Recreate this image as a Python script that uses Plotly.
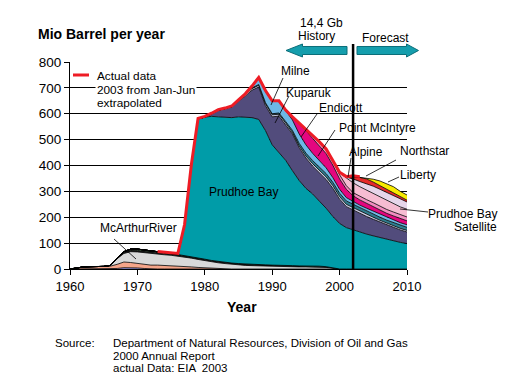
import plotly.graph_objects as go

# ---------------- data (Mio barrel per year) ----------------
YEARS = list(range(1960, 2011))

COOK_OTHER_START = 1967
COOK_OTHER = [2, 5, 5, 4, 2]
SWANSON_START = 1960
SWANSON = [0, 5, 8, 9, 9, 10, 11, 16, 22, 20, 18, 16, 15, 15, 14, 13, 12, 10, 8, 6, 4, 3, 2, 1]
MCARTHUR_START = 1966
MCARTHUR = [2, 22, 33, 42, 44, 45, 44, 42, 41, 40, 38, 36, 34, 31, 28, 25, 22, 20, 18, 16,
            14, 13, 12, 11, 10, 10, 9, 9, 8, 8, 8, 7, 6, 3]
MGS_START = 1966
MGS = [1, 3, 5, 6, 6, 6, 6, 6, 6, 6, 6, 6, 6, 6, 6, 5, 5, 5, 5, 5, 5, 5, 5, 5, 5, 5,
       4, 4, 4, 4, 4, 4, 3, 2]
GRANITE_START = 1968
GRANITE = [2, 4, 5, 5, 4, 3, 2, 1]
PRUDHOE_START = 1977
PRUDHOE = [118, 352, 537, 549, 557, 559, 560, 562, 567, 567, 567, 561, 519, 465, 435, 407,
           367, 330, 300, 278, 251, 226, 198, 176, 160, 151, 142, 135, 128, 121, 114, 108, 103, 98]
KUPARUK_START = 1981
KUPARUK = [10, 26, 34, 43, 61, 82, 106, 125, 96, 108, 141, 138, 142, 127, 117, 108, 109, 111,
           109, 94, 81, 77, 72, 68, 64, 60, 56, 52, 48, 45]
MILNE_START = 1985
MILNE = [3, 5, 6, 7, 8, 8, 7, 6, 6, 7, 8, 9, 10, 10, 10, 10, 9, 9, 9, 8, 8, 7, 7, 7, 6, 6]
LISBURNE_START = 1986
LISBURNE = [2, 3, 3, 4, 4, 5, 6, 8, 10, 11, 12, 12, 13, 13, 13, 13, 13, 13, 13, 13, 12, 12, 12, 12, 12]
ENDICOTT_START = 1987
ENDICOTT = [5, 25, 45, 48, 45, 42, 40, 36, 32, 28, 25, 22, 18, 15, 13, 11, 11, 11, 11, 10, 10, 10, 10, 10]
PTMC_START = 1993
PTMC = [10, 40, 55, 58, 58, 55, 48, 40, 32, 22, 20, 19, 18, 17, 16, 16, 15, 15]
NIAKUK_START = 1995
NIAKUK = [5, 10, 14, 16, 17, 16, 14, 12, 13, 14, 14, 15, 15, 15, 15, 15]
ALPINE_START = 2000
ALPINE = [8, 30, 38, 38, 37, 36, 35, 34, 32, 31, 30]
SATELLITE_START = 2001
SATELLITE = [3, 15, 20, 25, 28, 31, 32, 32, 30, 28]
NORTHSTAR_START = 2002
NORTHSTAR = [8, 16, 18, 16, 14, 12, 10, 8, 7]
LIBERTY_START = 2004
LIBERTY = [2, 11, 18, 22, 24, 22, 20]

ACTUAL_START = 1973
ACTUAL = [68, 66, 64, 60, 172, 402, 582, 590, 602, 616, 622, 630, 654, 677, 707, 740, 690,
          650, 650, 614, 588, 564, 542, 517, 492, 464, 420, 374, 357, 360, 357]

FORECAST_START = 2002
X_TICKS = [1960, 1970, 1980, 1990, 2000, 2010]
Y_TICKS = [0, 100, 200, 300, 400, 500, 600, 700, 800]


def padded(start, values):
    return [values[y - start] if start <= y < start + len(values) else 0 for y in YEARS]


LAYERS = [
    ("Cook Inlet other", COOK_OTHER_START, COOK_OTHER, "#8C8CD2"),
    ("Swanson River", SWANSON_START, SWANSON, "#F5A58A"),
    ("McArthur River", MCARTHUR_START, MCARTHUR, "#D9D9D9"),
    ("Middle Ground Shoal", MGS_START, MGS, "#1E1E1E"),
    ("Granite Point", GRANITE_START, GRANITE, "#6CC46C"),
    ("Prudhoe Bay", PRUDHOE_START, PRUDHOE, "#009CA8"),
    ("Kuparuk", KUPARUK_START, KUPARUK, "#524C7C"),
    ("Milne", MILNE_START, MILNE, "#C9C9E3"),
    ("Lisburne", LISBURNE_START, LISBURNE, "#2F7D8E"),
    ("Endicott", ENDICOTT_START, ENDICOTT, "#6DB8E6"),
    ("Point McIntyre", PTMC_START, PTMC, "#E4067F"),
    ("Niakuk", NIAKUK_START, NIAKUK, "#F28CC0"),
    ("Alpine", ALPINE_START, ALPINE, "#F6BCD2"),
    ("Prudhoe Bay Satellite", SATELLITE_START, SATELLITE, "#E6D6EA"),
    ("Northstar", NORTHSTAR_START, NORTHSTAR, "#E52A2A"),
    ("Liberty", LIBERTY_START, LIBERTY, "#F8EA00"),
]

FONT = "Liberation Sans, Arial, sans-serif"
W, H = 517, 376
L, R, T, B = 70, 110, 62, 107
PW, PH = W - L - R, H - T - B


def px(x):
    return (x - L) / PW


def py(y):
    return (H - B - y) / PH


fig = go.Figure()
for name, start, vals, col in LAYERS:
    fig.add_trace(go.Scatter(
        x=YEARS, y=padded(start, vals), name=name, mode="lines",
        stackgroup="one", fillcolor=col,
        line=dict(color="black", width=0.8), hoverinfo="skip", showlegend=False))

fig.add_trace(go.Scatter(
    x=list(range(ACTUAL_START, ACTUAL_START + len(ACTUAL))), y=ACTUAL,
    mode="lines", line=dict(color="#EE1C25", width=3), showlegend=False, hoverinfo="skip"))

shapes = []
# forecast divider
shapes.append(dict(type="line", xref="x", yref="paper", x0=FORECAST_START, x1=FORECAST_START,
                   y0=0, y1=py(44), line=dict(color="black", width=2.5), layer="above"))


def poly(points):
    return "M " + " L ".join(f"{px(a):.5f},{py(b):.5f}" for a, b in points) + " Z"


arrow_fill, arrow_line = "#159EAD", "#0B6E79"
shapes.append(dict(type="path", xref="paper", yref="paper",
                   path=poly([(286, 50.5), (302.5, 44), (302.5, 46.5), (347, 46.5), (347, 54.5),
                              (302.5, 54.5), (302.5, 57)]),
                   fillcolor=arrow_fill, line=dict(color=arrow_line, width=1)))
shapes.append(dict(type="path", xref="paper", yref="paper",
                   path=poly([(357, 46.5), (406.5, 46.5), (406.5, 44), (418.5, 50.5), (406.5, 57),
                              (406.5, 54.5), (357, 54.5)]),
                   fillcolor=arrow_fill, line=dict(color=arrow_line, width=1)))

# legend red segment
shapes.append(dict(type="line", xref="paper", yref="paper", x0=px(73), x1=px(89), y0=py(75), y1=py(75),
                   line=dict(color="#EE1C25", width=3)))

# leader lines
leaders = [
    ((114, 239), (136, 259)),
    ((283, 78), (271, 105)),
    ((289, 96), (275, 123)),
    ((317, 114), (301, 137)),
    ((335, 130), (318, 156)),
    ((351, 158), (348, 177)),
    ((396, 160), (366, 176)),
    ((399, 177), (388, 182)),
    ((428, 212), (400, 209)),
]
for (x0, y0), (x1, y1) in leaders:
    shapes.append(dict(type="line", xref="paper", yref="paper", x0=px(x0), y0=py(y0),
                       x1=px(x1), y1=py(y1), line=dict(color="black", width=0.8)))

annotations = []


def label(text, x, y, size=12, anchor="center", bold=False, bg=None):
    t = f"<b>{text}</b>" if bold else text
    d = dict(text=t, x=px(x), y=py(y), xref="paper", yref="paper", showarrow=False,
             xanchor=anchor, yanchor="middle", font=dict(family=FONT, size=size, color="black"))
    if bg:
        d.update(bgcolor=bg, borderpad=1)
    annotations.append(d)


label("Mio Barrel per year", 36, 34.3, size=14, anchor="left", bold=True)
label("Year", 242, 306.5, size=14, bold=True)
label("14,4 Gb", 321.7, 23.3)
label("History", 316.7, 36)
label("Forecast", 385, 37.7)
label("Milne", 295.5, 71)
label("Kuparuk", 309, 92.7)
label("Endicott", 340.5, 107.7)
label("Point McIntyre", 377.5, 127.7)
label("Alpine", 366, 152.3)
label("Northstar", 424.5, 151)
label("Liberty", 418, 175)
label("Prudhoe Bay", 499, 214, anchor="right")
label("Satellite", 499, 226.7, anchor="right")
label("Prudhoe Bay", 243, 191.7)
label("McArthurRiver", 138.3, 228.3)
label("Actual data", 95, 76, size=11.8, anchor="left", bg="white")
label("2003 from Jan-Jun", 95, 89.5, size=11.8, anchor="left", bg="white")
label("extrapolated", 95, 103, size=11.8, anchor="left", bg="white")
label("Source:", 53.3, 342.7, size=11.5, anchor="left")
label("Department of Natural Resources, Division of Oil and Gas", 111, 342.7, size=11.5, anchor="left")
label("2000 Annual Report", 111, 355.5, size=11.5, anchor="left")
label("actual Data: EIA  2003", 111, 368, size=11.5, anchor="left")

fig.update_layout(
    width=W, height=H, autosize=False,
    margin=dict(l=L, r=R, t=T, b=B, pad=0),
    paper_bgcolor="white", plot_bgcolor="white",
    font=dict(family=FONT, size=13, color="black"),
    shapes=shapes, annotations=annotations,
    xaxis=dict(range=[1960, 2010], tickvals=X_TICKS, ticks="outside", ticklen=5, tickcolor="black",
               showline=True, linecolor="black", linewidth=1, showgrid=False, zeroline=False,
               tickfont=dict(family=FONT, size=13, color="black"), fixedrange=True),
    yaxis=dict(range=[0, 800], tickvals=Y_TICKS, ticks="outside", ticklen=5, tickcolor="black",
               showline=True, linecolor="black", linewidth=1, showgrid=True, gridcolor="black",
               gridwidth=1, zeroline=False, tickfont=dict(family=FONT, size=13.5, color="black"),
               fixedrange=True),
)

fig.write_html(
    "out.html",
    config={"displayModeBar": False, "staticPlot": True},
    post_script="document.body.style.margin='0px';document.body.style.padding='0px';"
                "document.body.style.overflow='hidden';",
)
